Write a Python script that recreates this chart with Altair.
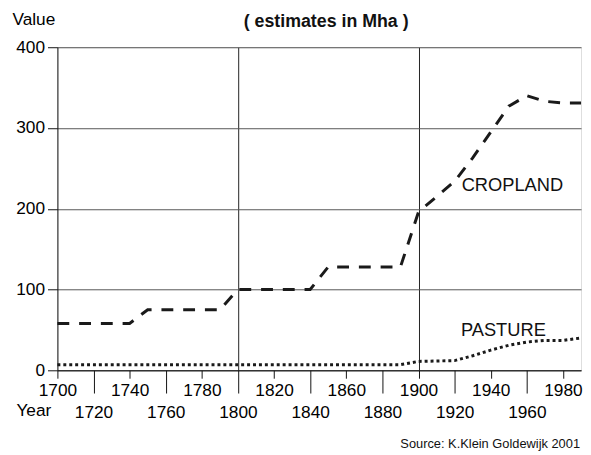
import altair as alt
import pandas as pd

# ---- data ----
crop_years = [1700, 1740, 1750, 1790, 1800, 1840, 1850, 1890, 1900, 1910, 1920, 1930, 1940, 1950, 1960, 1970, 1980, 1990]
crop_values = [58, 58, 75, 75, 100, 100, 128, 128, 196, 215, 234, 263, 295, 327, 340, 333, 331, 331]

past_years = [1700, 1750, 1800, 1850, 1890, 1900, 1920, 1930, 1940, 1950, 1960, 1970, 1980, 1990]
past_values = [7, 7, 7, 7, 7, 11, 12, 18, 25, 31, 35, 37, 37, 40]

label_text = ["CROPLAND", "PASTURE"]
label_year = [1952, 1947]
label_value = [229, 50]

ticks_row1 = [1700, 1740, 1780, 1820, 1860, 1900, 1940, 1980]
ticks_row2 = [1720, 1760, 1800, 1840, 1880, 1920, 1960]
grid_years = [1800, 1900]
y_ticks = [0, 100, 200, 300, 400]

title_text = "( estimates in Mha )"
source_text = "Source: K.Klein Goldewijk 2001"

FONT = "Liberation Sans"
FS = 17.5
W, H = 530, 327

crop_df = pd.DataFrame({"year": crop_years, "value": crop_values})
past_df = pd.DataFrame({"year": past_years, "value": past_values})
lab_df = pd.DataFrame({"label": label_text, "year": label_year, "value": label_value})
src_df = pd.DataFrame({"t": [source_text]})
title_df = pd.DataFrame({"t": [title_text]})

xscale = alt.Scale(domain=[1700, 1990], nice=False, zero=False)
yscale = alt.Scale(domain=[0, 400], nice=False)

y_enc = alt.Y(
    "value:Q", scale=yscale,
    axis=alt.Axis(values=y_ticks, tickSize=10, labelPadding=3, grid=True,
                  gridColor="#555", gridWidth=1, domainColor="#111", tickColor="#111",
                  title="Value", titleAngle=0, titleX=-46, titleY=-28, titleAlign="left",
                  titleBaseline="middle", titleFontWeight="normal", titleFontSize=FS,
                  labelFontSize=FS),
)

crop = alt.Chart(crop_df).mark_line(color="#1a1a1a", strokeWidth=3, strokeDash=[12, 10]).encode(
    x=alt.X("year:Q", scale=xscale,
            axis=alt.Axis(values=ticks_row1, format="d", tickSize=8, labelPadding=4, grid=False,
                          labelFlush=False, labelOverlap=False,
                          orient="bottom", title=None, domainColor="#111", tickColor="#111",
                          labelFontSize=FS)),
    y=y_enc,
)

past = alt.Chart(past_df).mark_line(color="#1a1a1a", strokeWidth=3, strokeDash=[3, 3]).encode(
    x=alt.X("year:Q", scale=xscale,
            axis=alt.Axis(values=ticks_row2, format="d", tickSize=23, labelPadding=11, grid=False,
                          labelFlush=False, labelOverlap=False,
                          orient="bottom", domain=False, tickColor="#111", labelFontSize=FS,
                          title="Year", titleX=-42, titleY=41, titleAlign="left",
                          titleBaseline="middle", titleFontWeight="normal", titleFontSize=FS)),
    y=y_enc,
)

labels = alt.Chart(lab_df).mark_text(fontSize=18.5, font=FONT, color="#111",
                                     align="center", baseline="middle").encode(
    x=alt.X("year:Q", scale=xscale,
            axis=alt.Axis(values=grid_years, grid=True, gridColor="#222", gridWidth=1,
                          ticks=False, labels=False, domain=False, title=None, orient="bottom")),
    y=y_enc,
    text="label:N",
)

title = alt.Chart(title_df).mark_text(fontSize=18, fontWeight="bold", font=FONT, color="#111",
                                      align="center", baseline="alphabetic").encode(
    x=alt.value(W / 2 + 7), y=alt.value(-20), text="t:N"
)

source = alt.Chart(src_df).mark_text(fontSize=13, font=FONT, color="#111",
                                     align="right", baseline="alphabetic").encode(
    x=alt.value(W - 1), y=alt.value(H + 79), text="t:N"
)

chart = alt.layer(crop, past, labels, title, source).resolve_axis(x="independent").properties(
    width=W, height=H,
    autosize=alt.AutoSizeParams(type="none"),
    padding={"left": 50, "top": 37, "right": 2, "bottom": 82},
).configure_axis(
    labelFont=FONT, titleFont=FONT, labelColor="#111", titleColor="#111"
).configure_view(stroke="#222", strokeWidth=1).configure(background="white")

chart.save("out.html", embed_options={"renderer": "svg", "actions": False})
